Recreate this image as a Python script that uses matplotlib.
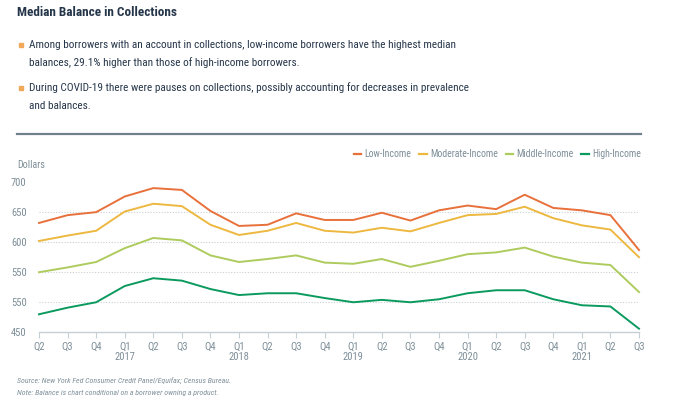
import matplotlib
matplotlib.use("Agg")
import matplotlib.pyplot as plt
from matplotlib.patches import Rectangle
from matplotlib.lines import Line2D
from matplotlib import font_manager as fm

quarters = ["Q2", "Q3", "Q4", "Q1", "Q2", "Q3", "Q4", "Q1", "Q2", "Q3", "Q4",
            "Q1", "Q2", "Q3", "Q4", "Q1", "Q2", "Q3", "Q4", "Q1", "Q2", "Q3"]
years = {3: "2017", 7: "2018", 11: "2019", 15: "2020", 19: "2021"}

low_income = [631, 644, 649, 675, 689, 686, 651, 626, 628, 647, 636,
              636, 648, 635, 652, 660, 654, 678, 656, 652, 644, 586]
moderate_income = [601, 610, 618, 650, 663, 659, 628, 611, 618, 631, 618,
                   615, 623, 617, 631, 644, 646, 658, 639, 627, 620, 574]
middle_income = [549, 557, 566, 589, 606, 602, 577, 566, 571, 577, 565,
                 563, 571, 558, 568, 579, 582, 590, 575, 565, 561, 516]
high_income = [479, 490, 499, 526, 539, 535, 521, 511, 514, 514, 506,
               499, 503, 499, 504, 514, 519, 519, 504, 494, 492, 455]

series_names = ["Low-Income", "Moderate-Income", "Middle-Income", "High-Income"]
series_colors = ["#E8703A", "#EDB840", "#AECB5E", "#0B9A5E"]

y_ticks = [450, 500, 550, 600, 650, 700]
y_tick_labels = ["450", "550", "550", "600", "650", "700"]

title = "Median Balance in Collections"
bullets = [
    ["Among borrowers with an account in collections, low-income borrowers have the highest median",
     "balances, 29.1% higher than those of high-income borrowers."],
    ["During COVID-19 there were pauses on collections, possibly accounting for decreases in prevalence",
     "and balances."],
]
source = "Source: New York Fed Consumer Credit Panel/Equifax; Census Bureau."
note = "Note: Balance is chart conditional on a borrower owning a product."


def _w(v):
    if isinstance(v, str):
        return fm.weight_dict.get(v, 400)
    return v


def find_font(weight=400, style="normal"):
    prefs = ["Roboto Condensed", "Noto Sans", "Open Sans", "Liberation Sans Narrow",
             "DejaVu Sans", "Roboto"]
    best = None
    for rank, fam in enumerate(prefs):
        for f in fm.fontManager.ttflist:
            if not f.name.startswith(fam):
                continue
            fname = f.fname.lower()
            cond = ("condensed" in fname or "narrow" in fname or
                    str(f.stretch) in ("condensed", "semi-condensed"))
            if "extracondensed" in fname or "extra-condensed" in str(f.stretch):
                continue
            if "semicondensed" in fname:
                cond = False
            if not cond and fam != "Roboto":
                continue
            if "italic" in fname or f.style in ("italic", "oblique"):
                st = "italic"
            else:
                st = "normal"
            if st != style:
                continue
            score = rank * 10000 + abs(_w(f.weight) - weight)
            if "variable" in fname or "[" in fname:
                score += 500
            if best is None or score < best[0]:
                best = (score, f.fname)
    if best is None:
        return fm.FontProperties(family="Roboto", weight=weight, style=style)
    return fm.FontProperties(fname=best[1])


F_REG = find_font(400, "normal")
F_BOLD = find_font(700, "normal")
F_IT = find_font(400, "italic")

W, H = 684, 407
fig = plt.figure(figsize=(W / 100, H / 100), dpi=100)
renderer = fig.canvas.get_renderer()


def fx(px):
    return px / W


def fy(py):
    return 1 - py / H


def fit(text_obj, target_px):
    for _ in range(3):
        w = text_obj.get_window_extent(renderer=renderer).width
        text_obj.set_fontsize(text_obj.get_fontsize() * target_px / w)
    return text_obj.get_fontsize()


gray = "#7D8E98"
dark = "#26364A"

t = fig.text(fx(17), fy(12), title, fontproperties=F_BOLD, fontsize=9, color=dark,
             va="center", ha="left")
fit(t, 160)

line_y = [[45, 63], [88, 106]]
probe = fig.text(0, 0, bullets[0][0], fontproperties=F_REG, fontsize=10)
body_size = fit(probe, 430)
probe.remove()
for b, ys in zip(bullets, line_y):
    fig.patches.append(Rectangle((fx(19), fy(ys[0]) - 2 / H), 4 / W, 4 / H,
                                 transform=fig.transFigure, color="#F0A85A"))
    for txt, yy in zip(b, ys):
        fig.text(fx(29), fy(yy), txt, fontproperties=F_REG, fontsize=body_size,
                 color=dark, va="center", ha="left")

fig.lines.append(Line2D([fx(17), fx(641)], [fy(134), fy(134)],
                        transform=fig.transFigure, color="#6F808B", lw=1.6))

ax = fig.add_axes([fx(39), fy(331.7), fx(600), (331.7 - 181.5) / H])
x = list(range(len(quarters)))
for vals, name, col in zip([low_income, moderate_income, middle_income, high_income],
                           series_names, series_colors):
    ax.plot(x, vals, color=col, lw=1.4, label=name, clip_on=False)

ax.set_xlim(0, len(quarters) - 1)
ax.set_ylim(450, 700)
ax.set_yticks(y_ticks)
ax.set_yticklabels(y_tick_labels)
ax.set_xticks(x)
ax.set_xticklabels([q + ("\n" + years[i] if i in years else "\n") for i, q in enumerate(quarters)],
                   linespacing=1.1)
for s in ["top", "right", "left"]:
    ax.spines[s].set_visible(False)
ax.spines["bottom"].set_color("#C5CFD4")
ax.spines["bottom"].set_linewidth(1.0)
ax.tick_params(axis="y", length=0, pad=9, labelcolor=gray)
ax.tick_params(axis="x", length=4, width=0.8, color="#C5CFD4", pad=3, labelcolor=gray)
for lab in ax.get_xticklabels() + ax.get_yticklabels():
    lab.set_fontproperties(F_REG)
    lab.set_fontsize(7.6)
for yv in y_ticks[1:]:
    ax.axhline(yv, color="#C8CFD3", lw=0.8, ls=(0, (1, 1.5)), zorder=0)

fig.text(fx(17), fy(165), "Dollars", fontproperties=F_REG, fontsize=7.2, color=gray,
         va="center", ha="left")

F_LEG = F_REG.copy()
F_LEG.set_size(7.0)
leg = fig.legend(loc="center right", bbox_to_anchor=(fx(641), fy(154)), ncol=4,
                 frameon=False, prop=F_LEG, handlelength=0.75, handletextpad=0.35,
                 columnspacing=0.8, borderaxespad=0, borderpad=0)
for tt in leg.get_texts():
    tt.set_color(gray)
for h in leg.get_lines():
    h.set_linewidth(1.6)

s1 = fig.text(fx(17), fy(381), source, fontproperties=F_IT, fontsize=6, color=gray,
              va="center", ha="left")
fs = fit(s1, 216)
fig.text(fx(17), fy(393), note, fontproperties=F_IT, fontsize=fs, color=gray,
         va="center", ha="left")

fig.savefig("out.png", dpi=100)
